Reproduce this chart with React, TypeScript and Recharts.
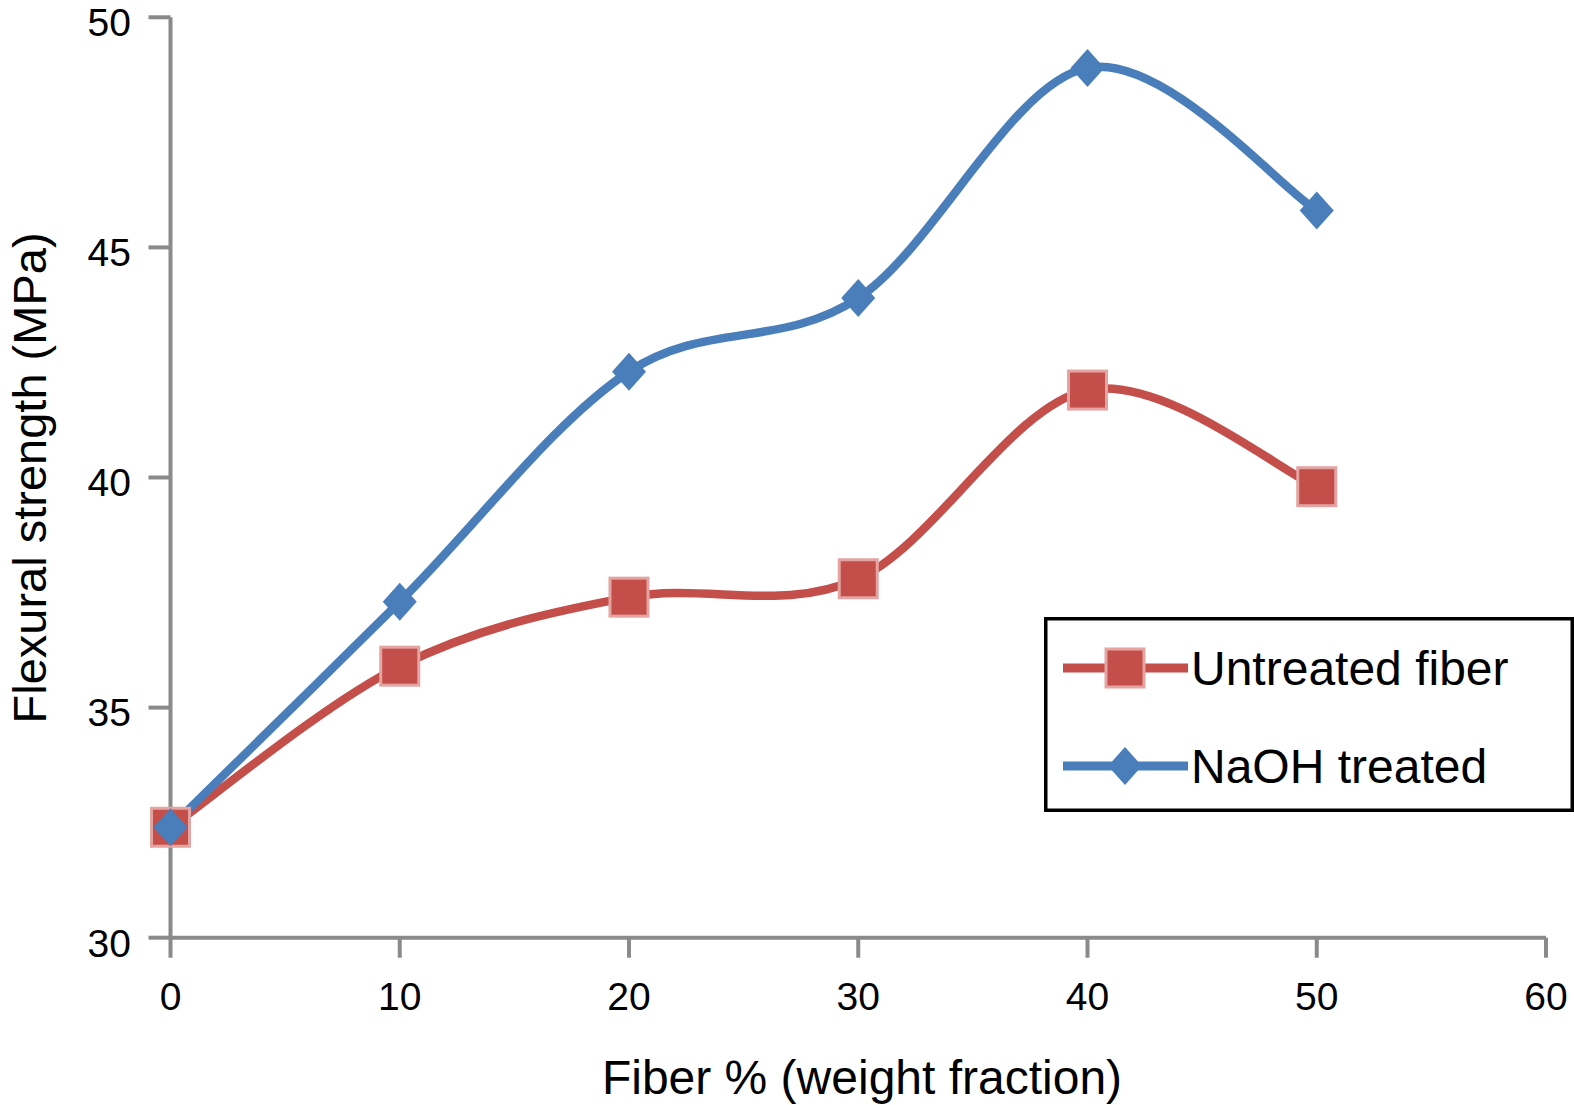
import React from 'react';
import { LineChart, Line, XAxis, YAxis, Legend } from 'recharts';

const fiberPercent = [0, 10, 20, 30, 40, 50];
const untreated = [32.4, 35.9, 37.4, 37.8, 41.9, 39.8];
const naohTreated = [32.4, 37.3, 42.3, 43.9, 48.9, 45.8];
const xTicks = [0, 10, 20, 30, 40, 50, 60];
const yTicks = [30, 35, 40, 45, 50];
const seriesKeys = ['untreated', 'naoh'];
const seriesNames = ['Untreated fiber', 'NaOH treated'];
const xTitle = 'Fiber % (weight fraction)';
const yTitle = 'Flexural strength (MPa)';

const data = fiberPercent.map((f, i) => ({ fiber: f, untreated: untreated[i], naoh: naohTreated[i] }));

const RED = '#c44e4a';
const RED_HALO = '#e3a4a2';
const BLUE = '#4a7ebb';
const AXIS = '#8a8a8a';
const FONT = '"Liberation Sans", Arial, Helvetica, sans-serif';

const LEG_W = 530;
const LEG_H = 195;

// Excel-like smoothed line (cardinal / Catmull-Rom style Bezier)
const smoothCurve: any = (context: any) => {
  let pts: number[][] = [];
  return {
    areaStart() {},
    areaEnd() {},
    lineStart() {
      pts = [];
    },
    point(x: number, y: number) {
      pts.push([+x, +y]);
    },
    lineEnd() {
      const n = pts.length;
      if (!n) return;
      context.moveTo(pts[0][0], pts[0][1]);
      const k = 1 / 6;
      for (let i = 0; i < n - 1; i++) {
        const p0 = pts[Math.max(0, i - 1)];
        const p1 = pts[i];
        const p2 = pts[i + 1];
        const p3 = pts[Math.min(n - 1, i + 2)];
        context.bezierCurveTo(
          p1[0] + k * (p2[0] - p0[0]),
          p1[1] + k * (p2[1] - p0[1]),
          p2[0] - k * (p3[0] - p1[0]),
          p2[1] - k * (p3[1] - p1[1]),
          p2[0],
          p2[1]
        );
      }
    },
  };
};

const Square = ({ cx, cy, s = 38 }: any) => (
  <rect x={cx - s / 2} y={cy - s / 2} width={s} height={s} fill={RED} stroke={RED_HALO} strokeWidth={3} />
);

const Diamond = ({ cx, cy, w = 17, h = 19 }: any) => (
  <path d={`M${cx},${cy - h} L${cx + w},${cy} L${cx},${cy + h} L${cx - w},${cy} Z`} fill={BLUE} />
);

const redDot = (props: any) => {
  const { cx, cy, index } = props;
  if (cx == null || cy == null) return <g key={`r${index}`} />;
  return <Square key={`r${index}`} cx={cx} cy={cy} />;
};

const blueDot = (props: any) => {
  const { cx, cy, index } = props;
  if (cx == null || cy == null) return <g key={`b${index}`} />;
  return <Diamond key={`b${index}`} cx={cx} cy={cy} />;
};

const XTick = (props: any) => {
  const { x, y, payload } = props;
  return (
    <text x={x} y={y} dy="0.71em" textAnchor="middle" fontSize={39} fontFamily={FONT} fill="#000">
      {payload.value}
    </text>
  );
};

const YTick = (props: any) => {
  const { x, y, payload } = props;
  return (
    <text x={x} y={y + 5} dy="0.355em" textAnchor="end" fontSize={39} fontFamily={FONT} fill="#000">
      {payload.value}
    </text>
  );
};

const renderLegend = (props: any) => {
  const payload = [...(props.payload || [])].sort(
    (a: any, b: any) => seriesKeys.indexOf(a.dataKey) - seriesKeys.indexOf(b.dataKey)
  );
  return (
    <svg width={LEG_W} height={LEG_H} style={{ display: 'block' }}>
      <rect x={1.75} y={1.75} width={LEG_W - 3.5} height={LEG_H - 3.5} fill="#fff" stroke="#000" strokeWidth={3.5} />
      {payload.map((entry: any, i: number) => {
        const cy = 51 + i * 98;
        const color = entry.color;
        return (
          <g key={i}>
            <line x1={19} x2={144} y1={cy} y2={cy} stroke={color} strokeWidth={9} />
            {entry.dataKey === 'untreated' ? <Square cx={81} cy={cy} /> : <Diamond cx={81} cy={cy} />}
            <text x={147} y={cy} dy="0.355em" fontSize={48} fontFamily={FONT} fill="#000">
              {entry.value}
            </text>
          </g>
        );
      })}
    </svg>
  );
};

export default function App() {
  return (
    <div style={{ width: 1574, height: 1105, overflow: 'hidden', position: 'relative' }}>
      <style>{'html,body{margin:0;padding:0;overflow:hidden}.recharts-surface{overflow:visible}'}</style>
      <LineChart width={1574} height={1105} data={data} margin={{ top: 17.3, right: 28, bottom: 0, left: 0 }}>
        <XAxis
          dataKey="fiber"
          type="number"
          domain={[0, 60]}
          ticks={xTicks}
          interval={0}
          height={167.3}
          axisLine={{ stroke: AXIS, strokeWidth: 4 }}
          tickLine={{ stroke: AXIS, strokeWidth: 4 }}
          tickSize={20}
          tickMargin={25}
          tick={<XTick />}
          label={() => (
            <text x={862} y={1094} textAnchor="middle" fontSize={48} fontFamily={FONT} fill="#000">
              {xTitle}
            </text>
          )}
        />
        <YAxis
          type="number"
          domain={[30, 50]}
          ticks={yTicks}
          interval={0}
          width={170.5}
          axisLine={{ stroke: AXIS, strokeWidth: 4 }}
          tickLine={{ stroke: AXIS, strokeWidth: 4 }}
          tickSize={22}
          tickMargin={17.5}
          tick={<YTick />}
          label={() => (
            <text
              x={46}
              y={478}
              transform="rotate(-90, 46, 478)"
              textAnchor="middle"
              fontSize={47}
              fontFamily={FONT}
              fill="#000"
            >
              {yTitle}
            </text>
          )}
        />
        <Legend
          layout="vertical"
          align="center"
          verticalAlign="middle"
          content={renderLegend}
          wrapperStyle={{ left: 1044, top: 617, width: LEG_W, height: LEG_H, margin: 0, padding: 0 }}
        />
        <Line
          name={seriesNames[0]}
          dataKey="untreated"
          type={smoothCurve}
          stroke={RED}
          strokeWidth={8.5}
          dot={redDot}
          activeDot={false}
          isAnimationActive={false}
        />
        <Line
          name={seriesNames[1]}
          dataKey="naoh"
          type={smoothCurve}
          stroke={BLUE}
          strokeWidth={8.5}
          dot={blueDot}
          activeDot={false}
          isAnimationActive={false}
        />
      </LineChart>
    </div>
  );
}
